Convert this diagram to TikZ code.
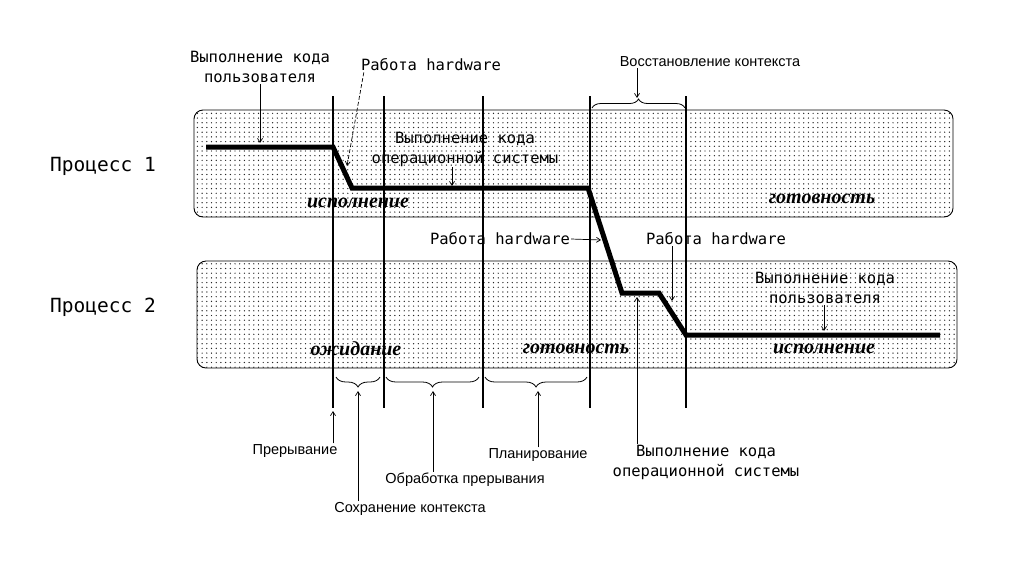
\documentclass[tikz,border=0pt]{standalone}
\usepackage{fontspec}
\setmainfont{Liberation Sans}
\newfontfamily\monofnt{DejaVu Sans Mono}
\newfontfamily\sostfnt{Liberation Serif}
\usetikzlibrary{
	arrows.meta,
	positioning,
	patterns.meta,
	decorations.pathreplacing,
	calc
}

\begin{document}
\begin{tikzpicture}[
			x=1pt, y=-1pt,
			mono/.style={font=\monofnt\fontsize{15.5}{20}\selectfont, align=center, inner sep=1pt},
			bigmono/.style={font=\monofnt\fontsize{19.5}{22}\selectfont, inner sep=1pt},
			sans/.style={font=\fontsize{14.5}{17}\selectfont, inner sep=1pt},
			sost/.style={font=\sostfnt\bfseries\itshape\fontsize{20}{22}\selectfont, inner sep=1pt},
			proc/.style={draw, rounded corners=9pt, line width=0.9pt, pattern={Dots[distance=4.7pt, radius=0.7pt]}, pattern color=black!85},
			tr/.style={line width=5pt},
			fl/.style={-{Straight Barb[length=4pt, width=5pt]}, line width=0.7pt},
			skob/.style={decorate, decoration={brace, amplitude=9pt}, line width=0.8pt},
			skobv/.style={decorate, decoration={brace, mirror, amplitude=10pt}, line width=0.8pt}
		]
		\useasboundingbox (0,0) rectangle (1024,574);

		\draw[proc] (194,110) rectangle (953,217);
		\draw[proc] (197,261) rectangle (957,368);

		\foreach \x/\w in {333/1.1pt, 384/1.1pt, 483/1.6pt, 590/1.4pt, 686/1.4pt}
			\draw[line width=\w] (\x,96) -- (\x,408);

		\node[bigmono] (p1) at (103,166) {Процесс 1};
		\node[bigmono] (p2) at (103,307) {Процесс 2};

		\node[sost] (isp1) at (358,203) {исполнение};
		\node[sost] (got1) at (822,199) {готовность};
		\node[sost] (ozh) at (356,349) {ожидание};
		\node[sost] (got2) at (576,349) {готовность};
		\node[sost] (isp2) at (824,349) {исполнение};

		\node[mono] (polz1) at (260,67) {Выполнение кода\\пользователя};
		\node[mono] (hw1) at (431,65) {Работа hardware};
		\node[mono] (os1) at (465,149) {Выполнение кода\\операционной системы};
		\node[sans] (vosst) at (710,62) {Восстановление контекста};
		\node[mono] (hw2) at (500,239) {Работа hardware};
		\node[mono] (hw3) at (716,239) {Работа hardware};
		\node[mono] (polz2) at (825,288) {Выполнение кода\\пользователя};
		\node[mono] (os2) at (706,462) {Выполнение кода\\операционной системы};
		\node[sans] (prer) at (295,451) {Прерывание};
		\node[sans] (sohr) at (410,509) {Сохранение контекста};
		\node[sans] (obr) at (465,480) {Обработка прерывания};
		\node[sans] (plan) at (538,455) {Планирование};

		\coordinate (t1) at (260,143);
		\coordinate (t2) at (347,166);
		\coordinate (t3) at (452,186);
		\coordinate (t4) at (637,98);
		\coordinate (t5) at (601,240);
		\coordinate (t6) at (672,301);
		\coordinate (t7) at (824,331);
		\coordinate (t8) at (637,297);
		\coordinate (t9) at (333,411);
		\coordinate (t10) at (358,391);
		\coordinate (t11) at (433,391);
		\coordinate (t12) at (538,391);

		\draw[skob] (592,108) -- (685,108);
		\draw[skobv] (336,377) -- (380,377);
		\draw[skobv] (386,377) -- (479,377);
		\draw[skobv] (485,377) -- (587,377);

		\draw[fl] (polz1.south -| t1) -- (t1);
		\draw[fl, dash pattern=on 4pt off 2pt] ($(hw1.south west)+(4,0)$) -- (t2);
		\draw[fl] (os1.south -| t3) -- (t3);
		\draw[fl] (vosst.south -| t4) -- (t4);
		\draw[fl] (hw2.east) -- (t5);
		\draw[fl] (hw3.south -| t6) -- (t6);
		\draw[fl] (polz2.south -| t7) -- (t7);
		\draw[fl] (os2.north -| t8) -- (t8);
		\draw[fl] (prer.north -| t9) -- (t9);
		\draw[fl] (sohr.north -| t10) -- (t10);
		\draw[fl] (obr.north -| t11) -- (t11);
		\draw[fl] (plan.north -| t12) -- (t12);

		\draw[tr] (206,147) -- (333,147) -- (352,188) -- (588,188) -- (622,293) -- (659,293) -- (686,335) -- (940,335);
	\end{tikzpicture}
\end{document}
